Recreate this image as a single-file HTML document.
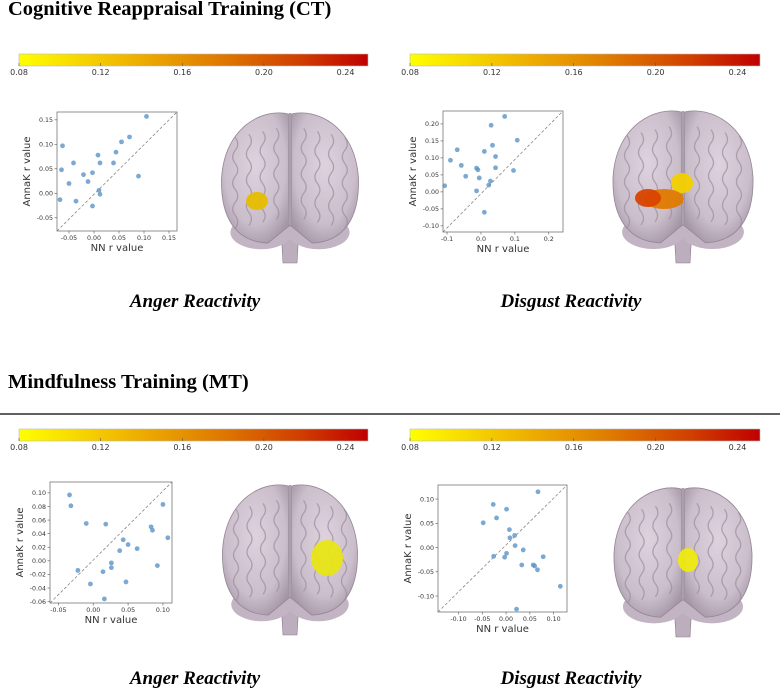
<!DOCTYPE html>
<html><head><meta charset="utf-8">
<style>
body{margin:0;background:#fff;}
svg{display:block;}
.ttl{font-family:"Liberation Serif",serif;font-weight:bold;font-size:20.5px;fill:#000;}
.sub{font-family:"Liberation Serif",serif;font-weight:bold;font-style:italic;font-size:19px;fill:#000;}
.cbl{font-family:"DejaVu Sans","Liberation Sans",sans-serif;font-size:8px;fill:#333;}
.tk{font-family:"DejaVu Sans","Liberation Sans",sans-serif;font-size:6.3px;fill:#333;}
.al{font-family:"DejaVu Sans","Liberation Sans",sans-serif;font-size:10px;fill:#333;}
</style></head>
<body>
<svg id="fig" width="780" height="688" viewBox="0 0 780 688" xmlns="http://www.w3.org/2000/svg">
<defs>
<linearGradient id="cbg" x1="0" x2="1" y1="0" y2="0">
<stop offset="0" stop-color="#ffff00"/><stop offset="0.3" stop-color="#f0b800"/><stop offset="0.55" stop-color="#e08000"/><stop offset="0.8" stop-color="#d04000"/><stop offset="1" stop-color="#c00000"/>
</linearGradient>
<radialGradient id="brg" cx="0.5" cy="0.4" r="0.65">
<stop offset="0" stop-color="#ddd2dd"/><stop offset="0.7" stop-color="#cbbecb"/><stop offset="1" stop-color="#a597a7"/>
</radialGradient>
</defs>
<text class="ttl" x="8" y="15">Cognitive Reappraisal Training (CT)</text>
<text class="ttl" x="8" y="388">Mindfulness Training (MT)</text>
<line x1="0" y1="414" x2="780" y2="414" stroke="#000" stroke-width="1.2"/>
<text class="sub" x="195" y="307" text-anchor="middle">Anger Reactivity</text>
<text class="sub" x="571" y="307" text-anchor="middle">Disgust Reactivity</text>
<text class="sub" x="195" y="684" text-anchor="middle">Anger Reactivity</text>
<text class="sub" x="571" y="684" text-anchor="middle">Disgust Reactivity</text>
</svg>
<script>
// colorbar data
const cbTicks = [0.08, 0.12, 0.16, 0.20, 0.24];
const cbMin = 0.08, cbMax = 0.251;

// scatter data
const p1x = [-0.068,-0.063,-0.065,-0.05,-0.041,-0.036,-0.021,-0.012,-0.003,-0.003,0.008,0.01,0.012,0.012,0.039,0.044,0.055,0.071,0.089,0.105];
const p1y = [-0.013,0.097,0.048,0.02,0.062,-0.016,0.038,0.024,0.042,-0.026,0.078,0.006,-0.002,0.062,0.062,0.084,0.105,0.115,0.035,0.157];
const p1xt = [-0.05,0,0.05,0.10,0.15];
const p1yt = [-0.05,0,0.05,0.10,0.15];
const p2x = [-0.107,-0.09,-0.07,-0.058,-0.045,-0.013,-0.009,-0.005,-0.013,0.01,0.01,0.023,0.028,0.03,0.034,0.043,0.043,0.07,0.096,0.107];
const p2y = [0.018,0.093,0.124,0.078,0.046,0.07,0.065,0.041,0.003,0.119,-0.06,0.02,0.032,0.196,0.137,0.104,0.071,0.222,0.063,0.152];
const p2xt = [-0.1,0,0.1,0.2];
const p2yt = [-0.10,-0.05,0,0.05,0.10,0.15,0.20];
const p3x = [-0.034,-0.032,-0.022,-0.01,-0.004,0.014,0.016,0.018,0.026,0.026,0.038,0.043,0.047,0.05,0.063,0.083,0.085,0.092,0.1,0.107];
const p3y = [0.097,0.081,-0.014,0.055,-0.034,-0.016,-0.056,0.054,-0.003,-0.01,0.015,0.031,-0.031,0.024,0.018,0.05,0.045,-0.007,0.083,0.034];
const p3xt = [-0.05,0,0.05,0.10];
const p3yt = [-0.06,-0.04,-0.02,0,0.02,0.04,0.06,0.08,0.10];
const p4x = [-0.048,-0.027,-0.026,-0.02,-0.003,0.001,0.001,0.007,0.008,0.018,0.019,0.022,0.033,0.036,0.057,0.06,0.066,0.067,0.078,0.114];
const p4y = [0.051,0.089,-0.018,0.061,-0.02,0.079,-0.012,0.037,0.02,0.025,0.004,-0.127,-0.036,-0.005,-0.036,-0.038,-0.046,0.115,-0.019,-0.08];
const p4xt = [-0.10,-0.05,0,0.05,0.10];
const p4yt = [-0.10,-0.05,0,0.05,0.10];

const NS = "http://www.w3.org/2000/svg";
const fig = document.getElementById('fig');
function mk(tag, attrs, parent){
  const e = document.createElementNS(NS, tag);
  for (const k in attrs) e.setAttribute(k, attrs[k]);
  (parent||fig).appendChild(e);
  return e;
}
function fmt(v, d){ return v.toFixed(d); }

function colorbar(x0, x1, y, name){
  const g = mk('g', {});
  
  
  const r = mk('rect', {x:x0, y:y, width:x1-x0, height:12, fill:'url(#cbg)', stroke:'#bbb', 'stroke-width':0.6}, g);
  
  
  const sx = v => x0 + (v-cbMin)/(cbMax-cbMin)*(x1-x0);
  cbTicks.forEach(t => {
    mk('line', {x1:sx(t), x2:sx(t), y1:y+9, y2:y+12, stroke:'#555', 'stroke-width':0.6}, g);
    const tx = mk('text', {x:sx(t), y:y+21, class:'cbl', 'text-anchor':'middle'}, g);
    tx.textContent = fmt(t,2);
    
    
  });
}
colorbar(19, 368, 54, 'ct-anger-colorbar');
colorbar(410, 760, 54, 'ct-disgust-colorbar');
colorbar(19, 368, 429, 'mt-anger-colorbar');
colorbar(410, 760, 429, 'mt-disgust-colorbar');

function scatter(name, xs, ys, xt, yt, box, xd, yd, dec){
  const g = mk('g', {});
  
  
  const [L,T,R,B] = box;
  const sx = v => L + (v-xd[0])/(xd[1]-xd[0])*(R-L);
  const sy = v => B - (v-yd[0])/(yd[1]-yd[0])*(B-T);
  const d = mk('line', {x1:L, y1:B, x2:R, y2:T, stroke:'#888', 'stroke-width':0.8, 'stroke-dasharray':'3,2'}, g);
  
  
  xs.forEach((v,i) => {
    const c = mk('circle', {cx:sx(v), cy:sy(ys[i]), r:2.4, fill:'#5b93c7', 'fill-opacity':0.8}, g);
    
    
  });
  const fr = mk('rect', {x:L, y:T, width:R-L, height:B-T, fill:'none', stroke:'#777', 'stroke-width':0.8}, g);
  
  
  xt.forEach(t => {
    mk('line', {x1:sx(t), x2:sx(t), y1:B, y2:B+2.5, stroke:'#555', 'stroke-width':0.6}, g);
    const tx = mk('text', {x:sx(t), y:B+9, class:'tk', 'text-anchor':'middle'}, g);
    tx.textContent = fmt(t, dec[0]);
    
    
  });
  yt.forEach(t => {
    mk('line', {x1:L-2.5, x2:L, y1:sy(t), y2:sy(t), stroke:'#555', 'stroke-width':0.6}, g);
    const tx = mk('text', {x:L-4, y:sy(t)+2.3, class:'tk', 'text-anchor':'end'}, g);
    tx.textContent = fmt(t, dec[1]);
    
    
  });
  const xl = mk('text', {x:(L+R)/2, y:B+20, class:'al', 'text-anchor':'middle'}, g);
  xl.textContent = 'NN r value';
  
  
  const yx = L-27, yy = (T+B)/2;
  const yl = mk('text', {x:yx, y:yy, class:'al', 'text-anchor':'middle', transform:'rotate(-90 '+yx+' '+yy+')'}, g);
  yl.textContent = 'AnnaK r value';
  
  
}
scatter('ct-anger-scatter', p1x, p1y, p1xt, p1yt, [57,112,177,231], [-0.074,0.166], [-0.077,0.166], [2,2]);
scatter('ct-disgust-scatter', p2x, p2y, p2xt, p2yt, [443,111,563,232], [-0.112,0.242], [-0.118,0.238], [1,2]);
scatter('mt-anger-scatter', p3x, p3y, p3xt, p3yt, [50,482,172,603], [-0.062,0.113], [-0.062,0.116], [2,2]);
scatter('mt-disgust-scatter', p4x, p4y, p4xt, p4yt, [438,485,567,612], [-0.143,0.128], [-0.133,0.129], [2,2]);

function brain(name, cx, top, w, h, blobs){
  const g = mk('g', {});
  
  
  const hw = w/2;
  // stem
  mk('path', {d:`M${cx-9} ${top+h*0.78} L${cx+9} ${top+h*0.78} L${cx+7} ${top+h} L${cx-7} ${top+h} Z`, fill:'#bcaebd', stroke:'#8a7a8c','stroke-width':0.6}, g);
  // lower lobes
  mk('ellipse', {cx:cx-hw*0.42, cy:top+h*0.8, rx:hw*0.45, ry:h*0.11, fill:'#c2b4c3'}, g);
  mk('ellipse', {cx:cx+hw*0.42, cy:top+h*0.8, rx:hw*0.45, ry:h*0.11, fill:'#c2b4c3'}, g);
  // hemispheres
  [-1,1].forEach(s => {
    const x0 = cx + s*1.5, xe = cx + s*hw;
    const p = `M${x0} ${top+4} C${x0+s*hw*0.35} ${top-2} ${xe-s*3} ${top+h*0.1} ${xe} ${top+h*0.45} C${xe+s*1} ${top+h*0.7} ${xe-s*hw*0.2} ${top+h*0.86} ${x0+s*hw*0.3} ${top+h*0.87} L${x0} ${top+h*0.76} Z`;
    const hm = mk('path', {d:p, fill:'url(#brg)', stroke:'#958597', 'stroke-width':0.8}, g);
    
    
    for (let k=0;k<4;k++){
      const xx = cx + s*(hw*(0.2+k*0.2));
      let d = `M${xx} ${top+h*0.12+k*3}`;
      for (let j=1;j<=7;j++){
        d += ` Q${xx + (j%2?5:-5)} ${top+h*0.12+k*3+j*h*0.085-h*0.04} ${xx} ${top+h*0.12+k*3+j*h*0.085}`;
      }
      mk('path', {d:d, fill:'none', stroke:'#9c8c9e', 'stroke-width':1.3, 'stroke-opacity':0.7}, g);
    }
  });
  mk('line', {x1:cx, y1:top+3, x2:cx, y2:top+h*0.76, stroke:'#6f6072', 'stroke-width':1.2}, g);
  blobs.forEach(b => {
    const e = mk('ellipse', {cx:b[0], cy:b[1], rx:b[2], ry:b[3], fill:b[4], 'fill-opacity':0.95}, g);
    
    
  });
}
brain('ct-anger-brain', 290, 110, 137, 153, [[257,201,11,9,'#e6bd00']]);
brain('ct-disgust-brain', 683, 108, 140, 155, [[682,183,11,10,'#f2d000'],[664,199,20,10,'#e07a00'],[648,198,13,9,'#d84400']]);
brain('mt-anger-brain', 290, 482, 135, 153, [[327,558,16,18,'#e8e615']]);
brain('mt-disgust-brain', 683, 485, 138, 152, [[688,560,10,12,'#eeea10']]);
</script>
</body></html>
